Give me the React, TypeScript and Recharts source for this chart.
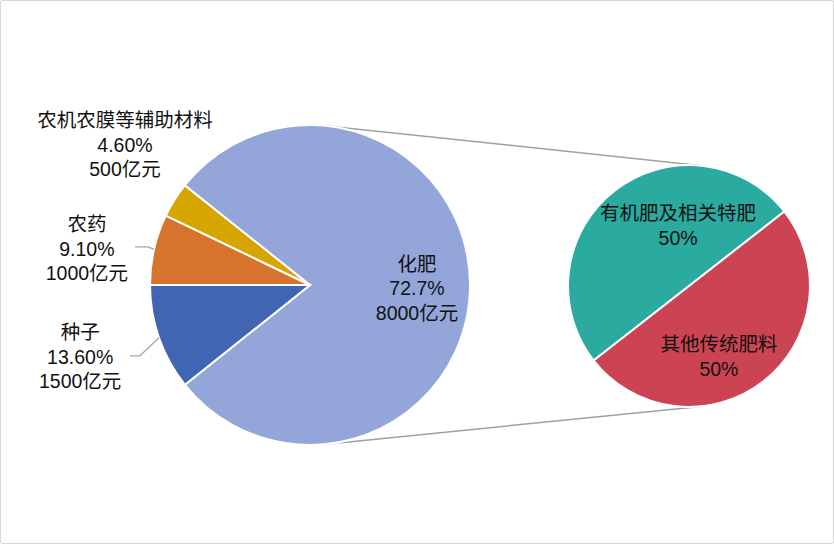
import { Cell, Customized, Pie, PieChart } from "recharts";

// primary pie, clockwise from 9 o'clock
const primaryNames = ["农药", "农机农膜等辅助材料", "化肥", "种子"];
const primaryShares = ["9.10%", "4.60%", "72.7%", "13.60%"];
const primaryAmounts = [1000, 500, 8000, 1500]; // 亿元, as labelled
const primaryColors = ["#D7732D", "#D6A500", "#93A5D9", "#4066B3"];

// secondary pie (breakdown of 化肥)
const secondaryNames = ["有机肥及相关特肥", "其他传统肥料"];
const secondaryShares = ["50%", "50%"];
const secondaryValues = [5500, 5500];
const secondaryColors = ["#2BAAA0", "#CC4454"];

// the 化肥 slice is drawn as big as the whole secondary pie
const fertilizerSize = secondaryValues.reduce((a, b) => a + b, 0);

const primaryData = primaryNames.map((name, i) => ({
  name,
  value: name === "化肥" ? fertilizerSize : primaryAmounts[i],
  lines: [name, primaryShares[i], `${primaryAmounts[i]}亿元`],
}));

const secondaryData = secondaryNames.map((name, i) => ({
  name,
  value: secondaryValues[i],
  lines: [name, secondaryShares[i]],
}));

const LEFT = { cx: 310, cy: 285, r: 160 };
const RIGHT = { cx: 689, cy: 286, r: 121 };
const RAD = Math.PI / 180;
const FONT = "'Liberation Sans', 'Noto Sans CJK SC', sans-serif";
const LINE_H = 24.5;

// label placement tweaks (radius, nudge) and leader lines
const primaryLabelStyle = [
  { k: 235, dx: 6, dy: 16, leader: { ex: -6, ey: -2.5, tail: 13 } },
  { k: 235, dx: 14, dy: -15, leader: null },
  { k: 107, dx: 0, dy: 3, leader: null },
  { k: 235, dx: -8, dy: -6, leader: { ex: -19, ey: 18, tail: 10 } },
];
const secondaryLabelStyle = [
  { k: 60, dx: 26, dy: -13 },
  { k: 60, dx: -7, dy: 23 },
];

function TextBlock({ x, y, lines }: { x: number; y: number; lines: string[] }) {
  const n = lines.length;
  return (
    <text
      textAnchor="middle"
      dominantBaseline="central"
      fontFamily={FONT}
      fontSize={19.5}
      fill="#111"
    >
      {lines.map((t, i) => (
        <tspan key={i} x={x} y={y + (i - (n - 1) / 2) * LINE_H}>
          {t}
        </tspan>
      ))}
    </text>
  );
}

function primaryLabel(props: any) {
  const { cx, cy, midAngle, outerRadius, index } = props;
  const st = primaryLabelStyle[index];
  const cos = Math.cos(-midAngle * RAD);
  const sin = Math.sin(-midAngle * RAD);
  const x = cx + st.k * cos + st.dx;
  const y = cy + st.k * sin + st.dy;
  let leader = null;
  if (st.leader) {
    const x0 = cx + outerRadius * cos;
    const y0 = cy + outerRadius * sin;
    const x1 = x0 + st.leader.ex;
    const y1 = y0 + st.leader.ey;
    leader = (
      <polyline
        points={`${x0},${y0} ${x1},${y1} ${x1 - st.leader.tail},${y1}`}
        fill="none"
        stroke="#A6A6A6"
        strokeWidth={1.3}
      />
    );
  }
  return (
    <g key={`pl-${index}`}>
      {leader}
      <TextBlock x={x} y={y} lines={primaryData[index].lines} />
    </g>
  );
}

function secondaryLabel(props: any) {
  const { cx, cy, midAngle, index } = props;
  const st = secondaryLabelStyle[index];
  const x = cx + st.k * Math.cos(-midAngle * RAD) + st.dx;
  const y = cy + st.k * Math.sin(-midAngle * RAD) + st.dy;
  return (
    <g key={`sl-${index}`}>
      <TextBlock x={x} y={y} lines={secondaryData[index].lines} />
    </g>
  );
}

// outer common tangents between the two pies
function Connectors() {
  const dx = RIGHT.cx - LEFT.cx;
  const dy = RIGHT.cy - LEFT.cy;
  const d = Math.hypot(dx, dy);
  const base = Math.atan2(dy, dx);
  const phi = Math.acos((LEFT.r - RIGHT.r) / d);
  return (
    <g>
      {[-phi, phi].map((p, i) => {
        const a = base + p;
        return (
          <line
            key={i}
            x1={LEFT.cx + LEFT.r * Math.cos(a)}
            y1={LEFT.cy + LEFT.r * Math.sin(a)}
            x2={RIGHT.cx + RIGHT.r * Math.cos(a)}
            y2={RIGHT.cy + RIGHT.r * Math.sin(a)}
            stroke="#A0A0A0"
            strokeWidth={1.5}
          />
        );
      })}
    </g>
  );
}

export default function App() {
  return (
    <div
      style={{
        position: "absolute",
        left: 0,
        top: 0,
        width: 834,
        height: 544,
        boxSizing: "border-box",
        border: "1.5px solid #D6D6D6",
        borderRadius: 2,
        background: "#fff",
      }}
    >
      <div style={{ position: "absolute", left: -1.5, top: -1.5 }}>
        <PieChart width={834} height={544} margin={{ top: 0, right: 0, bottom: 0, left: 0 }}>
          <Customized component={Connectors} />
          <Pie
            data={primaryData}
            dataKey="value"
            cx={LEFT.cx}
            cy={LEFT.cy}
            outerRadius={LEFT.r}
            startAngle={180}
            endAngle={-180}
            stroke="#fff"
            strokeWidth={2}
            label={primaryLabel}
            labelLine={false}
            isAnimationActive={false}
          >
            {primaryData.map((_, i) => (
              <Cell key={i} fill={primaryColors[i]} />
            ))}
          </Pie>
          <Pie
            data={secondaryData}
            dataKey="value"
            cx={RIGHT.cx}
            cy={RIGHT.cy}
            outerRadius={RIGHT.r}
            startAngle={38}
            endAngle={398}
            stroke="#fff"
            strokeWidth={2}
            label={secondaryLabel}
            labelLine={false}
            isAnimationActive={false}
          >
            {secondaryData.map((_, i) => (
              <Cell key={i} fill={secondaryColors[i]} />
            ))}
          </Pie>
        </PieChart>
      </div>
    </div>
  );
}
